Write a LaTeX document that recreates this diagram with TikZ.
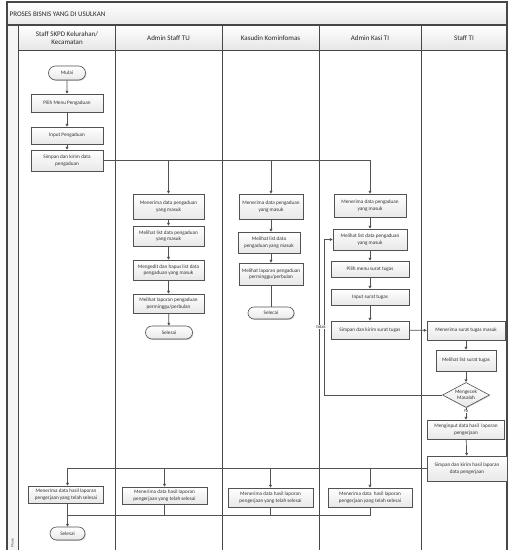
\documentclass[tikz,border=0pt]{standalone}
\usepackage{fontspec}
\setmainfont{Carlito}
\usetikzlibrary{shapes.geometric,shapes.misc,arrows.meta,shadows}

\begin{document}
\begin{tikzpicture}[x=1pt,y=-1pt,
  frame/.style={draw=black!72,line width=1.1pt},
  lane/.style={draw=black!72,line width=0.9pt},
  hdr/.style={font=\fontsize{7}{8.4}\selectfont,text=black!85,align=center,inner sep=0pt},
  boxbase/.style={draw=black!68,line width=0.6pt,top color=white,bottom color=black!9,
    inner sep=1pt,align=center,text=black!80,font=\fontsize{5.2}{6.3}\selectfont,
    drop shadow={shadow xshift=0.8pt,shadow yshift=-0.8pt,fill=black!40,opacity=0.55}},
  proc/.style n args={2}{boxbase,rectangle,minimum width=#1pt,minimum height=#2pt},
  term/.style n args={2}{boxbase,rounded rectangle,minimum width=#1pt,minimum height=#2pt},
  decide/.style n args={2}{boxbase,diamond,aspect=1.9,inner sep=0pt,minimum width=#1pt,minimum height=#2pt},
  lbl/.style={font=\fontsize{4.6}{5.4}\selectfont,text=black!80,inner sep=0.3pt,fill=white},
  flow/.style={draw=black!68,line width=0.7pt},
  arr/.style={flow,-{Triangle[width=2.8pt,length=2.8pt]}}
]
\useasboundingbox (0,0) rectangle (508,550);
\clip (0,0) rectangle (508,550);
\fill[white] (0,0) rectangle (508,550);

% pool frame, title bar, lane headers
\shade[top color=white,bottom color=black!9] (7,2) rectangle (507,25);
\shade[top color=white,bottom color=black!10] (18,25) rectangle (507,50);
\fill[black!4] (7,25) rectangle (18,560);
\draw[frame] (7,2) rectangle (507,600);
\draw[frame] (7,25) -- (507,25);
\draw[lane] (18,50) -- (507,50);
\draw[lane] (18,25) -- (18,600);
\foreach \lx in {115,222,319,421} \draw[lane] (\lx,25) -- (\lx,600);

\node[font=\fontsize{7}{8.4}\selectfont,text=black!85,anchor=west,inner sep=0pt] (title) at (9.5,14) {PROSES BISNIS YANG DI USULKAN};
\node[hdr] (h1) at (67,38) {Staff SKPD Kelurahan/\\Kecamatan};
\node[hdr] (h2) at (168.5,38) {Admin Staff TU};
\node[hdr] (h3) at (270.5,38) {Kasudin Kominfomas};
\node[hdr] (h4) at (370,38) {Admin Kasi TI};
\node[hdr] (h5) at (464,38) {Staff TI};
\node[font=\fontsize{3.6}{4}\selectfont,text=black!75,rotate=90,inner sep=0pt] (phase) at (12.5,543) {Phase};

% Staff SKPD Kelurahan/Kecamatan
\node[term={39}{14}] (mulai) at (67,73) {Mulai};
\node[proc={72}{18}] (pilih) at (67,103) {Pilih Menu Pengaduan};
\node[proc={72}{17}] (inp) at (67,135.5) {Input Pengaduan};
\node[proc={72}{21}] (kirim) at (67,160.5) {Simpan dan kirim data\\pengaduan};
\node[proc={75}{17}] (hasil1) at (66,494.5) {Menerima data hasil laporan\\pengerjaan yang telah selesai};
\node[term={37}{13}] (selesai1) at (67.5,533.5) {Selesai};

% Admin Staff TU
\node[proc={71}{25}] (tu1) at (168.5,206.5) {Menerima data pengaduan\\yang masuk};
\node[proc={71}{20}] (tu2) at (168.5,236) {Melihat list data pengaduan\\yang masuk};
\node[proc={71}{20}] (tu3) at (168.5,270) {Mengedit dan hapus list data\\pengaduan yang masuk};
\node[proc={71}{19}] (tu4) at (168.5,303.5) {Melihat laporan pengaduan\\perminggu/perbulan};
\node[term={49}{13}] (tu5) at (169,332.5) {Selesai};
\node[proc={85}{17}] (tu6) at (164.5,495.5) {Menerima data hasil laporan\\pengerjaan yang telah selesai};

% Kasudin Kominfomas
\node[proc={64}{25}] (kd1) at (271,206.5) {Menerima data pengaduan\\yang masuk};
\node[proc={62}{21}] (kd2) at (269,242.5) {Melihat list data\\pengaduan yang masuk};
\node[proc={64}{22}] (kd3) at (271,274) {Melihat laporan pengaduan\\perminggu/perbulan};
\node[term={48}{12}] (kd4) at (271,313) {Selecai};
\node[proc={85}{19}] (kd5) at (270.5,497.5) {Menerima data hasil laporan\\pengerjaan yang telah selesai};

% Admin Kasi TI
\node[proc={72}{23}] (ak1) at (370,205.5) {Menerima data pengaduan\\yang masuk};
\node[proc={74}{21}] (ak2) at (370,239.5) {Melihat list data pengaduan\\yang masuk};
\node[proc={78}{16}] (ak3) at (370,269) {Pilih menu surat tugas};
\node[proc={78}{16}] (ak4) at (370,297) {Input surat tugas};
\node[proc={78}{18}] (ak5) at (370,330) {Simpan dan kirim surat tugas};
\node[proc={84}{19}] (ak6) at (370,497.5) {Menerima data\ \ hasil laporan\\pengerjaan yang telah selesai};

% Staff TI
\node[proc={78}{19}] (st1) at (466,330.5) {Menerima surat tugas masuk};
\node[proc={60}{21}] (st2) at (466,360.5) {Melihat list surat tugas};
\node[decide={47}{25}] (cek) at (466,395) {Mengecek\\Masalah};
\node[proc={77}{19}] (st3) at (466,429.5) {Menginput data hasil\ \ laporan\\pengerjaan};
\node[proc={80}{25}] (st4) at (467,468.5) {Simpan dan kirim hasil laporan\\data pengerjaan};

% flow: submission of a complaint
\draw[arr] (mulai) -- (pilih);
\draw[arr] (pilih) -- (inp);
\draw[arr] (inp) -- (kirim);
\draw[arr] (kirim.east) -| (tu1.north);
\draw[arr] (kirim.east) -| (kd1.north);
\draw[arr] (kirim.east) -| (ak1.north);

\draw[arr] (tu1) -- (tu2);
\draw[arr] (tu2) -- (tu3);
\draw[arr] (tu3) -- (tu4);
\draw[arr] (tu4) -- (tu5);

\draw[arr] (kd1.south) -- (kd1.south |- kd2.north);
\draw[arr] (kd2.south -| kd1.south) -- (kd3.north);
\draw[flow] (kd3) -- (kd4);

\draw[arr] (ak1) -- (ak2);
\draw[arr] (ak2) -- (ak3);
\draw[arr] (ak3) -- (ak4);
\draw[arr] (ak4) -- (ak5);
\draw[arr] (ak5) -- (st1);

\draw[arr] (st1) -- (st2);
\draw[arr] (st2) -- (cek);
\coordinate (back) at (324,395);
\draw[arr] (cek.west) -- (back) |- (ak2.west);
\node[lbl] (tidak) at (321,327) {tidak};
\draw[arr] (cek) -- (st3);
\node[lbl] (ya) at (466,411.5) {Ya};
\draw[arr] (st3) -- (st4);

% results sent back to every lane
\draw[arr] (st4.west) -| (hasil1.north -| selesai1);
\draw[arr] (st4.west) -| (tu6.north);
\draw[arr] (st4.west) -| (kd5.north);
\draw[arr] (st4.west) -| (ak6.north);

\coordinate (merge) at (67.5,515);
\draw[flow] (ak6.south) |- (merge);
\draw[flow] (kd5.south) |- (merge);
\draw[flow] (tu6.south) |- (merge);
\draw[arr] (hasil1.south -| selesai1) -- (selesai1.north);
\end{tikzpicture}
\end{document}
